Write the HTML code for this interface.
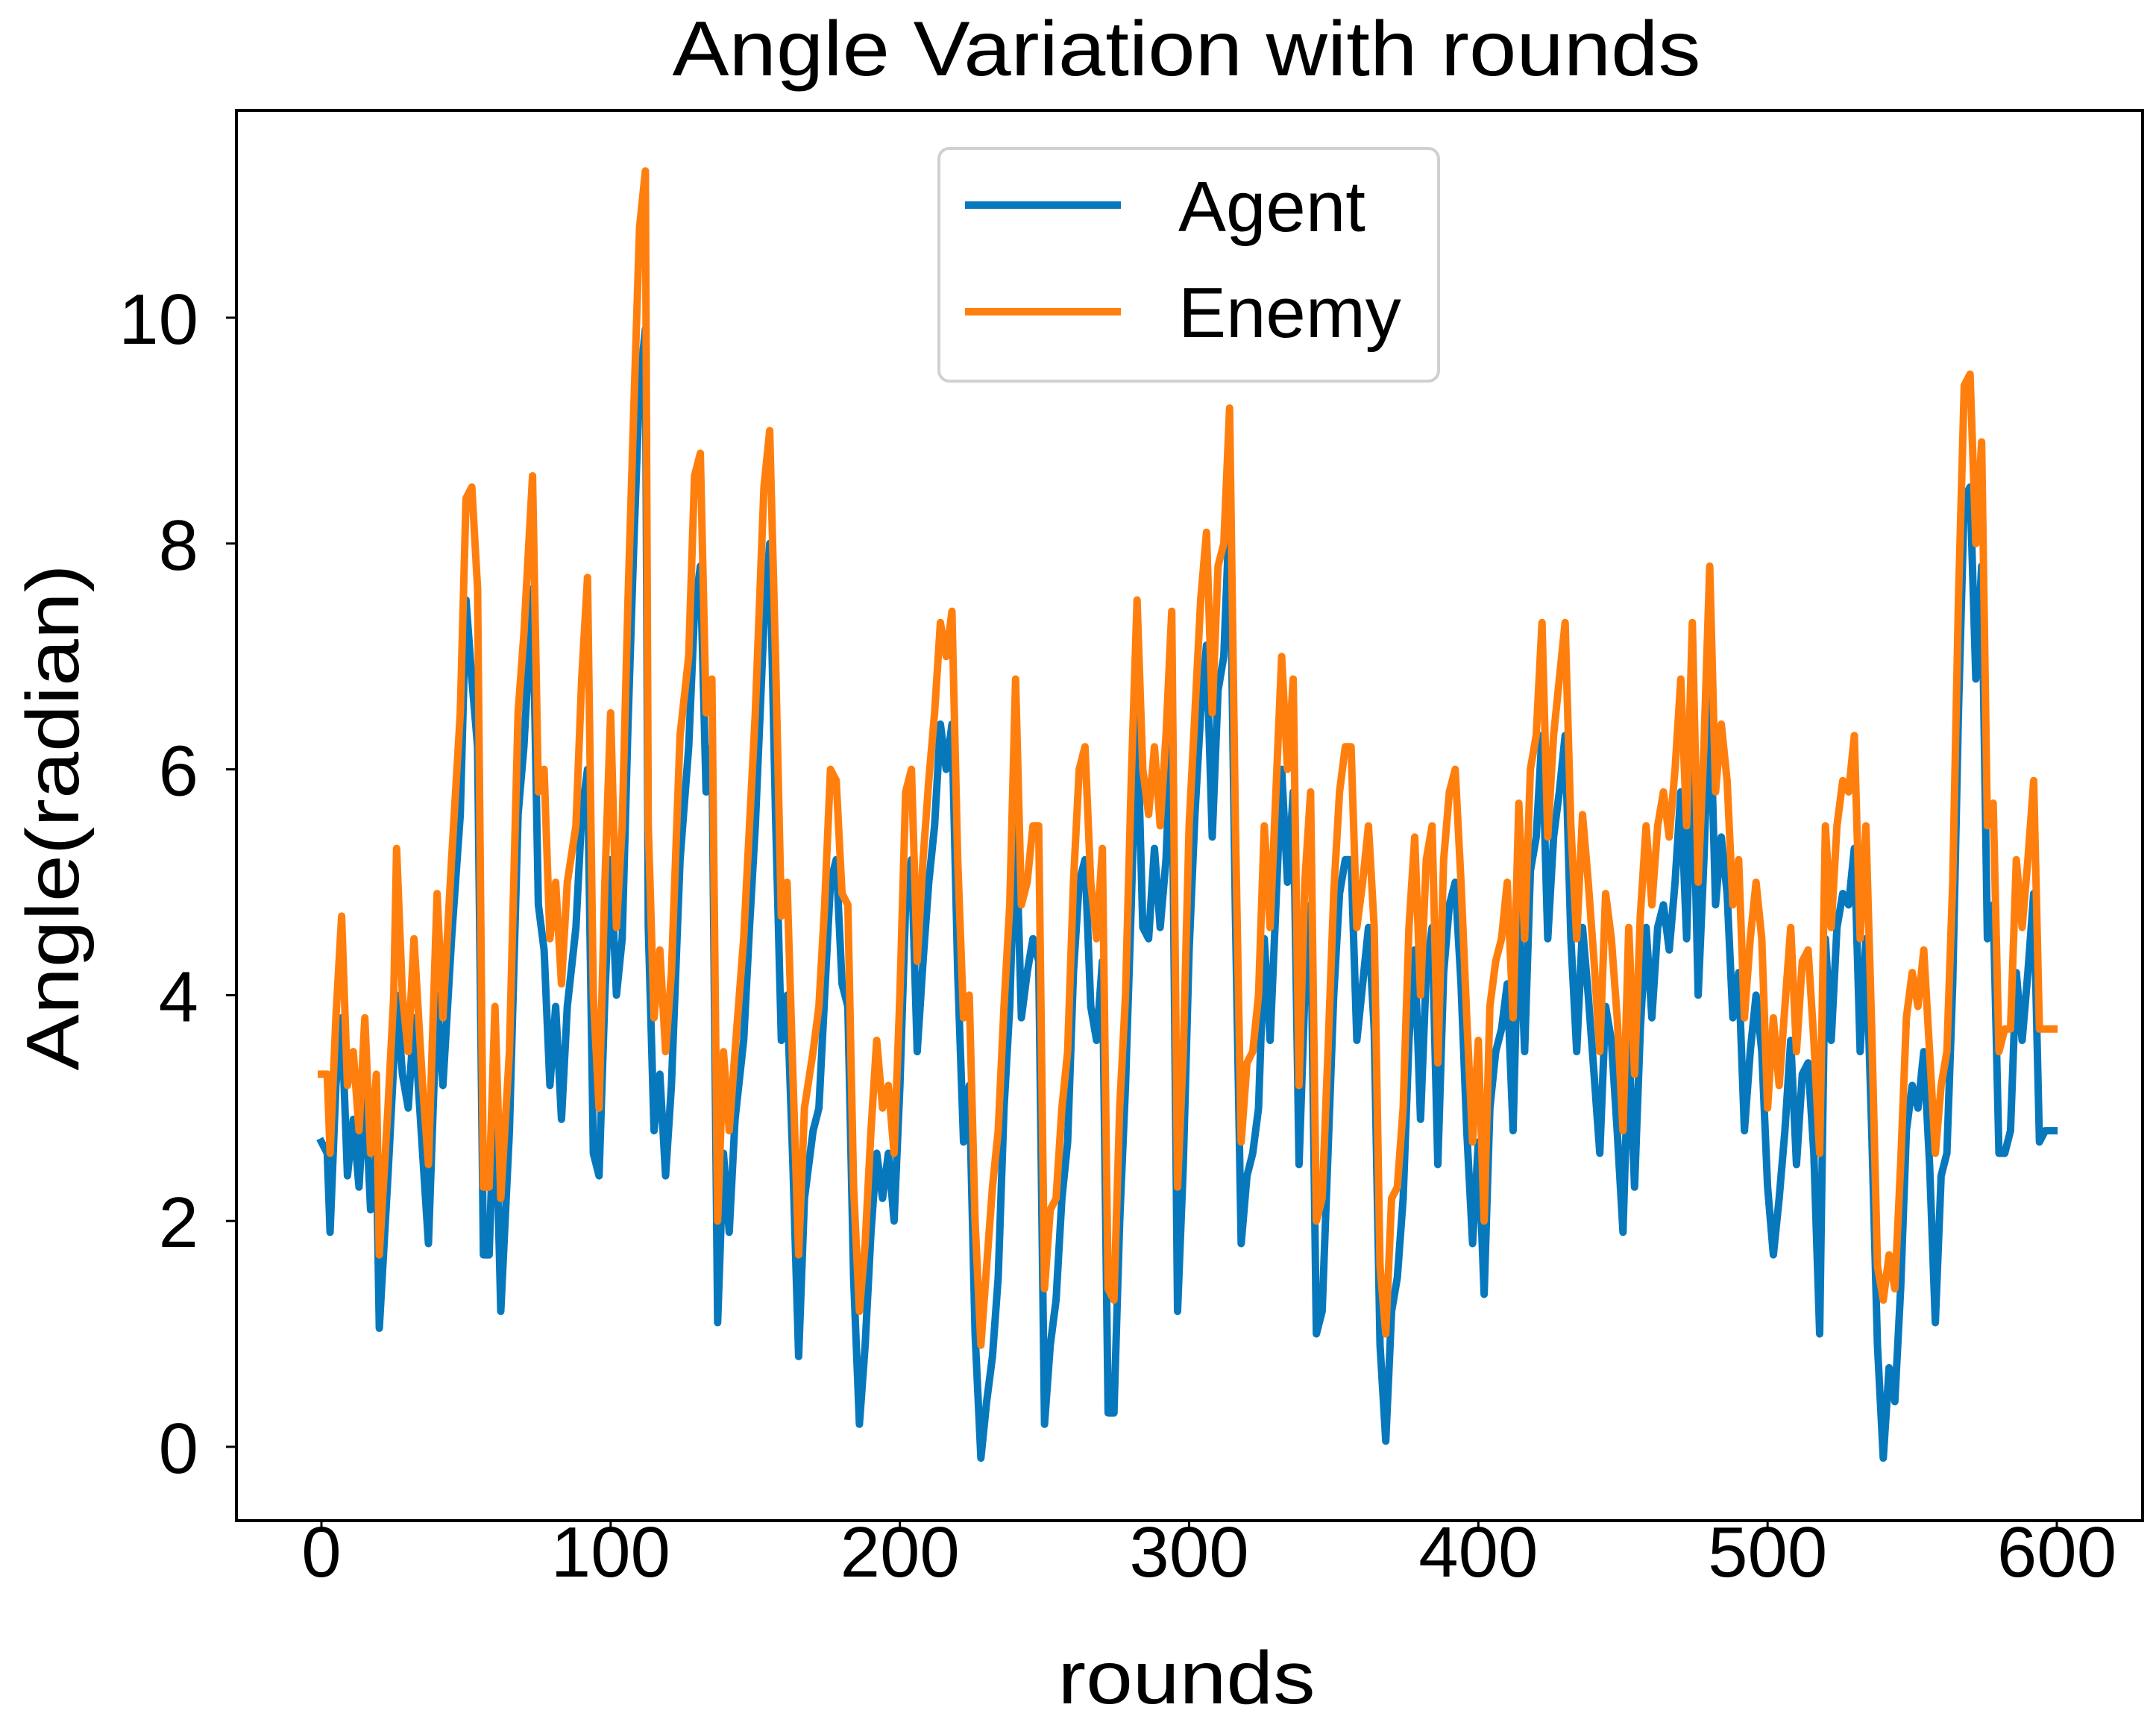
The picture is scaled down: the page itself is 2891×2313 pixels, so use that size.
<!DOCTYPE html>
<html><head><meta charset="utf-8"><title>Angle Variation with rounds</title>
<style>html,body{margin:0;padding:0;background:#fff}svg{display:block}text{font-family:"Liberation Sans",Arial,sans-serif;fill:#000}</style>
</head><body>
<svg id="chart" width="2891" height="2313" viewBox="0 0 2891 2313" xmlns="http://www.w3.org/2000/svg">
<rect x="0" y="0" width="2891" height="2313" fill="#fff"/>
<text x="1591" y="101" font-size="104" text-anchor="middle" textLength="1379" lengthAdjust="spacingAndGlyphs">Angle Variation with rounds</text>
<g id="plot"></g>
<rect x="317" y="148" width="2556" height="1891" fill="none" stroke="#000" stroke-width="4"/>
<g id="ticks"></g>
<text x="1591" y="2284" font-size="100" text-anchor="middle" textLength="345" lengthAdjust="spacingAndGlyphs">rounds</text>
<text transform="translate(105,1096) rotate(-90)" font-size="100" text-anchor="middle" textLength="679" lengthAdjust="spacingAndGlyphs">Angle(radian)</text>
<g>
<rect x="1259" y="199" width="670" height="312" rx="14" fill="#fff" fill-opacity="0.8" stroke="#d0d0d0" stroke-width="4"/>
<line x1="1294" y1="275" x2="1503" y2="275" stroke="#0878bd" stroke-width="10"/>
<text x="1580" y="310" font-size="96">Agent</text>
<line x1="1294" y1="418" x2="1503" y2="418" stroke="#ff7f0e" stroke-width="10"/>
<text x="1580" y="452" font-size="96">Enemy</text>
</g>
</svg>
<script>
const rounds=[0,2,3,5,7,9,11,13,15,17,19,20,23,25,26,28,30,32,35,37,40,42,45,48,50,52,54,56,58,60,62,65,68,70,73,75,77,79,81,83,85,88,90,92,94,96,98,100,102,104,106,108,110,112,113,115,117,119,121,124,127,129,131,133,135,137,139,141,143,146,148,150,153,155,157,159,161,163,165,167,170,172,174,176,178,180,182,184,186,188,
190,192,194,196,198,200,202,204,206,208,210,212,214,216,218,220,222,224,226,228,230,232,234,236,238,240,242,244,246,248,250,252,254,256,258,260,262,264,266,268,270,272,274,276,278,280,282,284,286,288,290,292,294,296,298,300,302,304,306,308,310,312,314,316,318,320,322,324,326,328,330,332,334,336,338,340,342,344,346,348,350,352,354,356,358,360,362,364,366,368,370,372,374,376,378,380,382,384,386,388,390,392,394,396,398,400,402,404,406,408,410,412,414,416,418,420,422,424,426,428,430,432,434,436,438,440,442,444,446,448,450,452,454,456,458,460,462,464,466,468,470,472,474,476,478,480,482,484,486,488,490,492,494,496,498,500,502,504,506,508,510,512,514,516,518,520,522,524,526,528,530,532,534,536,538,540,542,544,546,548,550,552,554,556,558,560,562,564,566,568,570,572,574,576,578,580,582,584,586,588,590,592,594,596,599];
const enemy=[3.3,3.3,2.6,3.8,4.7,3.2,3.5,2.8,3.8,2.6,3.3,1.7,3.0,4.0,5.3,4.0,3.5,4.5,3.2,2.5,4.9,3.8,5.2,6.5,8.4,8.5,7.6,2.3,2.3,3.9,2.2,3.5,6.5,7.2,8.6,5.8,6.0,4.5,5.0,4.1,5.0,5.5,6.8,7.7,4.0,3.0,5.0,6.5,4.6,5.5,7.5,9.2,10.8,11.3,5.5,3.8,4.4,3.5,4.2,6.3,7.0,8.6,8.8,6.5,6.8,2.0,3.5,2.8,3.5,4.5,5.5,6.5,8.5,9.0,7.0,4.7,5.0,3.3,1.7,3.0,3.5,3.9,4.8,6.0,5.9,4.9,4.8,2.3,1.2,1.8,
2.8,3.6,3.0,3.2,2.6,4.0,5.8,6.0,4.3,5.2,5.9,6.5,7.3,7.0,7.4,5.2,3.8,4.0,2.0,0.9,1.6,2.3,2.8,3.9,4.8,6.8,4.8,5.0,5.5,5.5,1.4,2.1,2.2,3.0,3.5,5.0,6.0,6.2,5.0,4.5,5.3,1.4,1.3,3.0,4.0,5.9,7.5,6.0,5.6,6.2,5.5,6.3,7.4,2.3,3.5,5.5,6.5,7.5,8.1,6.5,7.8,8.0,9.2,5.5,2.7,3.4,3.5,4.0,5.5,4.6,5.8,7.0,6.0,6.8,3.2,5.0,5.8,2.0,2.2,3.5,4.9,5.8,6.2,6.2,4.6,5.0,5.5,4.6,1.6,1.0,2.2,2.3,3.0,4.6,5.4,4.0,5.2,5.5,3.4,5.2,5.8,6.0,5.0,3.8,2.7,3.6,2.0,3.9,4.3,4.5,5.0,3.8,5.7,4.5,6.0,6.3,7.3,5.4,6.3,6.8,7.3,5.5,4.5,5.6,5.0,4.3,3.5,4.9,4.5,3.8,2.8,4.6,3.3,4.7,5.5,4.8,5.5,5.8,5.4,6.0,6.8,5.5,7.3,5.0,6.2,7.8,5.8,6.4,5.9,4.8,5.2,3.8,4.5,5.0,4.5,3.0,3.8,3.2,3.9,4.6,3.5,4.3,4.4,3.6,2.6,5.5,4.6,5.5,5.9,5.8,6.3,4.5,5.5,3.7,1.6,1.3,1.7,1.4,2.5,3.8,4.2,3.9,4.4,3.5,2.6,3.2,3.5,5.0,7.5,9.4,9.5,8.0,8.9,5.5,5.7,3.5,3.7,3.7,5.2,4.6,5.2,5.9,3.7,3.7,3.7];
const agent=[2.7,2.6,1.9,3.2,3.8,2.4,2.9,2.3,3.2,2.1,2.6,1.05,2.4,3.4,4.0,3.3,3.0,3.8,2.6,1.8,4.0,3.2,4.5,5.6,7.5,6.8,6.2,1.7,1.7,3.3,1.2,2.8,5.6,6.2,7.6,4.8,4.4,3.2,3.9,2.9,3.9,4.6,5.6,6.0,2.6,2.4,4.0,5.2,4.0,4.5,6.4,8.0,9.4,9.9,4.6,2.8,3.3,2.4,3.2,5.2,6.2,7.4,7.8,5.8,6.2,1.1,2.6,1.9,2.9,3.6,4.6,5.5,7.3,8.0,5.6,3.6,4.0,2.5,0.8,2.2,2.8,3.0,4.0,5.0,5.2,4.1,3.9,1.5,0.2,0.9,
1.9,2.6,2.2,2.6,2.0,3.2,4.8,5.2,3.5,4.3,5.0,5.5,6.4,6.0,6.4,4.2,2.7,3.2,1.0,-0.1,0.4,0.8,1.5,3.0,3.9,5.6,3.8,4.2,4.5,4.3,0.2,0.9,1.3,2.2,2.7,4.2,5.0,5.2,3.9,3.6,4.3,0.3,0.3,2.0,3.2,4.8,6.5,4.6,4.5,5.3,4.6,5.2,6.4,1.2,2.5,4.4,5.6,6.5,7.1,5.4,6.7,7.0,8.3,4.7,1.8,2.4,2.6,3.0,4.5,3.6,4.8,6.0,5.0,5.8,2.5,4.0,4.8,1.0,1.2,2.6,4.0,4.9,5.2,5.2,3.6,4.1,4.6,3.7,0.9,0.05,1.2,1.5,2.2,3.6,4.4,2.9,4.2,4.6,2.5,4.2,4.8,5.0,4.1,2.8,1.8,2.7,1.35,3.0,3.5,3.7,4.1,2.8,4.8,3.5,5.1,5.4,6.3,4.5,5.4,5.8,6.3,4.5,3.5,4.6,4.0,3.3,2.6,3.9,3.6,2.8,1.9,3.6,2.3,3.7,4.6,3.8,4.6,4.8,4.4,5.0,5.8,4.5,6.3,4.0,5.2,6.7,4.8,5.4,4.9,3.8,4.2,2.8,3.5,4.0,3.5,2.3,1.7,2.2,2.8,3.6,2.5,3.3,3.4,2.6,1.0,4.5,3.6,4.6,4.9,4.8,5.3,3.5,4.5,2.8,0.9,-0.1,0.7,0.4,1.4,2.8,3.2,3.0,3.5,2.5,1.1,2.4,2.6,4.1,6.5,8.4,8.5,6.8,7.8,4.5,4.8,2.6,2.6,2.8,4.2,3.6,4.2,4.9,2.7,2.8,2.8];
const xTicks=[0,100,200,300,400,500,600];
const yTicks=[0,2,4,6,8,10];

const NS='http://www.w3.org/2000/svg';
function xs(v){return 431+(v/600)*(2758-431);}
function ys(v){return 1940-(v/10)*(1940-426);}
const plot=document.getElementById('plot');
function drawLine(vals,color,name){
  const n=Math.min(rounds.length,vals.length);
  let d='';
  for(let i=0;i<n;i++){d+=(i?'L':'M')+xs(rounds[i]).toFixed(1)+','+ys(vals[i]).toFixed(1);}
  const p=document.createElementNS(NS,'path');
  p.setAttribute('d',d);p.setAttribute('fill','none');p.setAttribute('stroke',color);
  p.setAttribute('stroke-width','10');p.setAttribute('stroke-linejoin','round');p.setAttribute('stroke-linecap','square');
  
  
  plot.appendChild(p);
}
drawLine(agent,'#0878bd','agent-series-line');
drawLine(enemy,'#ff7f0e','enemy-series-line');
const tg=document.getElementById('ticks');
xTicks.forEach(t=>{
  const x=xs(t);
  const l=document.createElementNS(NS,'line');
  l.setAttribute('x1',x);l.setAttribute('x2',x);l.setAttribute('y1',2039);l.setAttribute('y2',2053);
  l.setAttribute('stroke','#000');l.setAttribute('stroke-width','3');
  
  
  tg.appendChild(l);
  const tx=document.createElementNS(NS,'text');
  tx.setAttribute('x',x);tx.setAttribute('y',2114);tx.setAttribute('font-size','96');tx.setAttribute('text-anchor','middle');
  tx.textContent=String(t);
  
  
  tg.appendChild(tx);
});
yTicks.forEach(t=>{
  const y=ys(t);
  const l=document.createElementNS(NS,'line');
  l.setAttribute('x1',303);l.setAttribute('x2',317);l.setAttribute('y1',y);l.setAttribute('y2',y);
  l.setAttribute('stroke','#000');l.setAttribute('stroke-width','3');
  
  
  tg.appendChild(l);
  const tx=document.createElementNS(NS,'text');
  tx.setAttribute('x',266);tx.setAttribute('y',y+35);tx.setAttribute('font-size','96');tx.setAttribute('text-anchor','end');
  tx.textContent=String(t);
  
  
  tg.appendChild(tx);
});
</script>
</body></html>
